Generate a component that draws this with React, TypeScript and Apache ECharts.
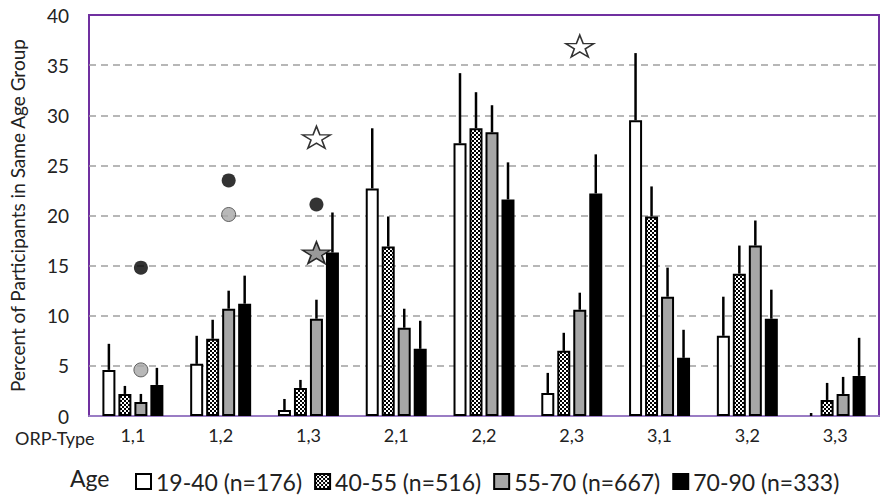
import React, { useEffect, useRef } from "react";
import * as echarts from "echarts";

const categories = ["1,1", "1,2", "1,3", "2,1", "2,2", "2,3", "3,1", "3,2", "3,3"];
const seriesNames = ["19-40 (n=176)", "40-55 (n=516)", "55-70 (n=667)", "70-90 (n=333)"];

const age1940 = [4.6, 5.2, 0.6, 22.7, 27.2, 2.3, 29.5, 8.0, 0];
const err1940 = [7.2, 8.0, 1.7, 28.7, 34.2, 4.3, 36.2, 11.9, 0.3];
const age4055 = [2.2, 7.7, 2.8, 16.9, 28.7, 6.5, 19.9, 14.2, 1.6];
const err4055 = [3.0, 9.6, 3.6, 19.9, 32.3, 8.3, 22.9, 17.0, 3.3];
const age5570 = [1.4, 10.7, 9.7, 8.8, 28.3, 10.6, 11.9, 17.0, 2.2];
const err5570 = [2.2, 12.5, 11.6, 10.7, 31.0, 12.3, 14.8, 19.5, 3.9];
const age7090 = [3.1, 11.2, 16.3, 6.7, 21.6, 22.2, 5.8, 9.7, 4.0];
const err7090 = [4.8, 14.0, 20.3, 9.5, 25.3, 26.1, 8.6, 12.6, 7.8];

// significance markers: [category, value]
const blackDots: [string, number][] = [["1,1", 14.8], ["1,2", 23.5], ["1,3", 21.1]];
const greyDots: [string, number][] = [["1,1", 4.6], ["1,2", 20.1]];
const whiteStars: [string, number][] = [["1,3", 27.8], ["2,3", 36.9]];
const greyStars: [string, number][] = [["1,3", 16.3]];

const yTicks = { min: 0, max: 40, interval: 5 };

const STAR = "path://M50,0 L61.8,35.1 L98.1,35.1 L68.8,56.7 L79.4,90.5 L50,69.1 L20.6,90.5 L31.2,56.7 L1.9,35.1 L38.2,35.1 Z";

export default function App() {
  const ref = useRef<HTMLDivElement>(null);
  useEffect(() => {
    if (!ref.current) return;
    const chart = echarts.init(ref.current, undefined, { renderer: "svg" });

    const c = document.createElement("canvas");
    c.width = 4;
    c.height = 4;
    const ctx = c.getContext("2d")!;
    ctx.fillStyle = "#ffffff";
    ctx.fillRect(0, 0, 4, 4);
    ctx.fillStyle = "#000000";
    ctx.fillRect(0, 0, 2, 2);
    ctx.fillRect(2, 2, 2, 2);
    const checker = { image: c, repeat: "repeat" };

    const values = [age1940, age4055, age5570, age7090];
    const errs = [err1940, err4055, err5570, err7090];
    const fills: any[] = ["#ffffff", checker, "#a6a6a6", "#000000"];
    const BAR_W = 13;
    const offsets = [-24, -8, 8, 24];

    const barSeries = values.map((vals, si) => ({
      type: "bar",
      name: seriesNames[si],
      barWidth: BAR_W,
      barGap: "23%",
      itemStyle: { color: fills[si], borderColor: "#000", borderWidth: 2 },
      data: vals.map((v) => (v === 0 ? { value: v, itemStyle: { borderWidth: 0 } } : v)),
      z: 2,
    }));

    const errData: number[][] = [];
    errs.forEach((arr, si) => {
      arr.forEach((e, ci) => errData.push([ci, values[si][ci], e, si]));
    });

    const errSeries = {
      type: "custom",
      name: "err",
      data: errData,
      z: 3,
      renderItem: (params: any, api: any) => {
        const ci = api.value(0);
        const si = api.value(3);
        const p1 = api.coord([ci, api.value(1)]);
        const p2 = api.coord([ci, api.value(2)]);
        const x = p1[0] + offsets[si];
        return {
          type: "line",
          shape: { x1: x, y1: p1[1], x2: x, y2: p2[1] },
          style: { stroke: "#000", lineWidth: 2.5 },
        };
      },
    };

    const scatter = (data: [string, number][], symbol: string, size: any, style: any) => ({
      type: "scatter",
      data,
      symbol,
      symbolSize: size,
      symbolOffset: [8, 0],
      itemStyle: style,
      z: 5,
    });

    const option: any = {
      animation: false,
      textStyle: { fontFamily: "Lato" },
      grid: {
        left: 87,
        right: 9,
        top: 15,
        bottom: 85,
        show: true,
        borderColor: "#7030A0",
        borderWidth: 2,
      },
      legend: {
        data: seriesNames,
        left: 130,
        top: 465,
        icon: "rect",
        itemWidth: 15,
        itemHeight: 15,
        itemGap: 12,
        selectedMode: false,
        textStyle: { fontFamily: "Lato", fontSize: 23, color: "#222" },
      },
      graphic: [
        {
          type: "text",
          left: 70,
          top: 466,
          style: { text: "Age", font: "23px Lato", fill: "#222" },
        },
        {
          type: "text",
          left: 15,
          top: 429,
          style: { text: "ORP-Type", font: "18px Lato", fill: "#222" },
        },
      ],
      xAxis: {
        type: "category",
        data: categories,
        axisLine: { show: true, lineStyle: { color: "#9a7cc4", width: 2 } },
        axisTick: { show: false },
        axisLabel: { fontSize: 18, color: "#222", margin: 10, fontFamily: "Lato" },
      },
      yAxis: {
        type: "value",
        min: yTicks.min,
        max: yTicks.max,
        interval: yTicks.interval,
        name: "Percent of Participants in Same Age Group",
        nameLocation: "middle",
        nameGap: 62,
        nameTextStyle: { fontSize: 19, color: "#222", fontFamily: "Lato" },
        axisLine: { show: false },
        axisTick: { show: false },
        axisLabel: { fontSize: 19, color: "#222", margin: 20, fontFamily: "Lato" },
        splitLine: {
          showMinLine: false,
          showMaxLine: false,
          lineStyle: { color: "#a0a0a0", type: [7, 5], width: 1.5 },
        },
      },
      series: [
        ...barSeries,
        errSeries,
        scatter(blackDots, "circle", 14, { color: "#000" }),
        scatter(greyDots, "circle", 14, { color: "#a6a6a6", borderColor: "#444", borderWidth: 1 }),
        scatter(whiteStars, STAR, [28, 22], { color: "#fff", borderColor: "#000", borderWidth: 1.5 }),
        scatter(greyStars, STAR, [28, 22], { color: "#7f7f7f", borderColor: "#000", borderWidth: 1.5 }),
      ],
    };
    chart.setOption(option);
    return () => chart.dispose();
  }, []);
  return (
    <div
      ref={ref}
      style={{ position: "absolute", left: 0, top: 0, width: 888, height: 501, background: "#fff" }}
    />
  );
}
